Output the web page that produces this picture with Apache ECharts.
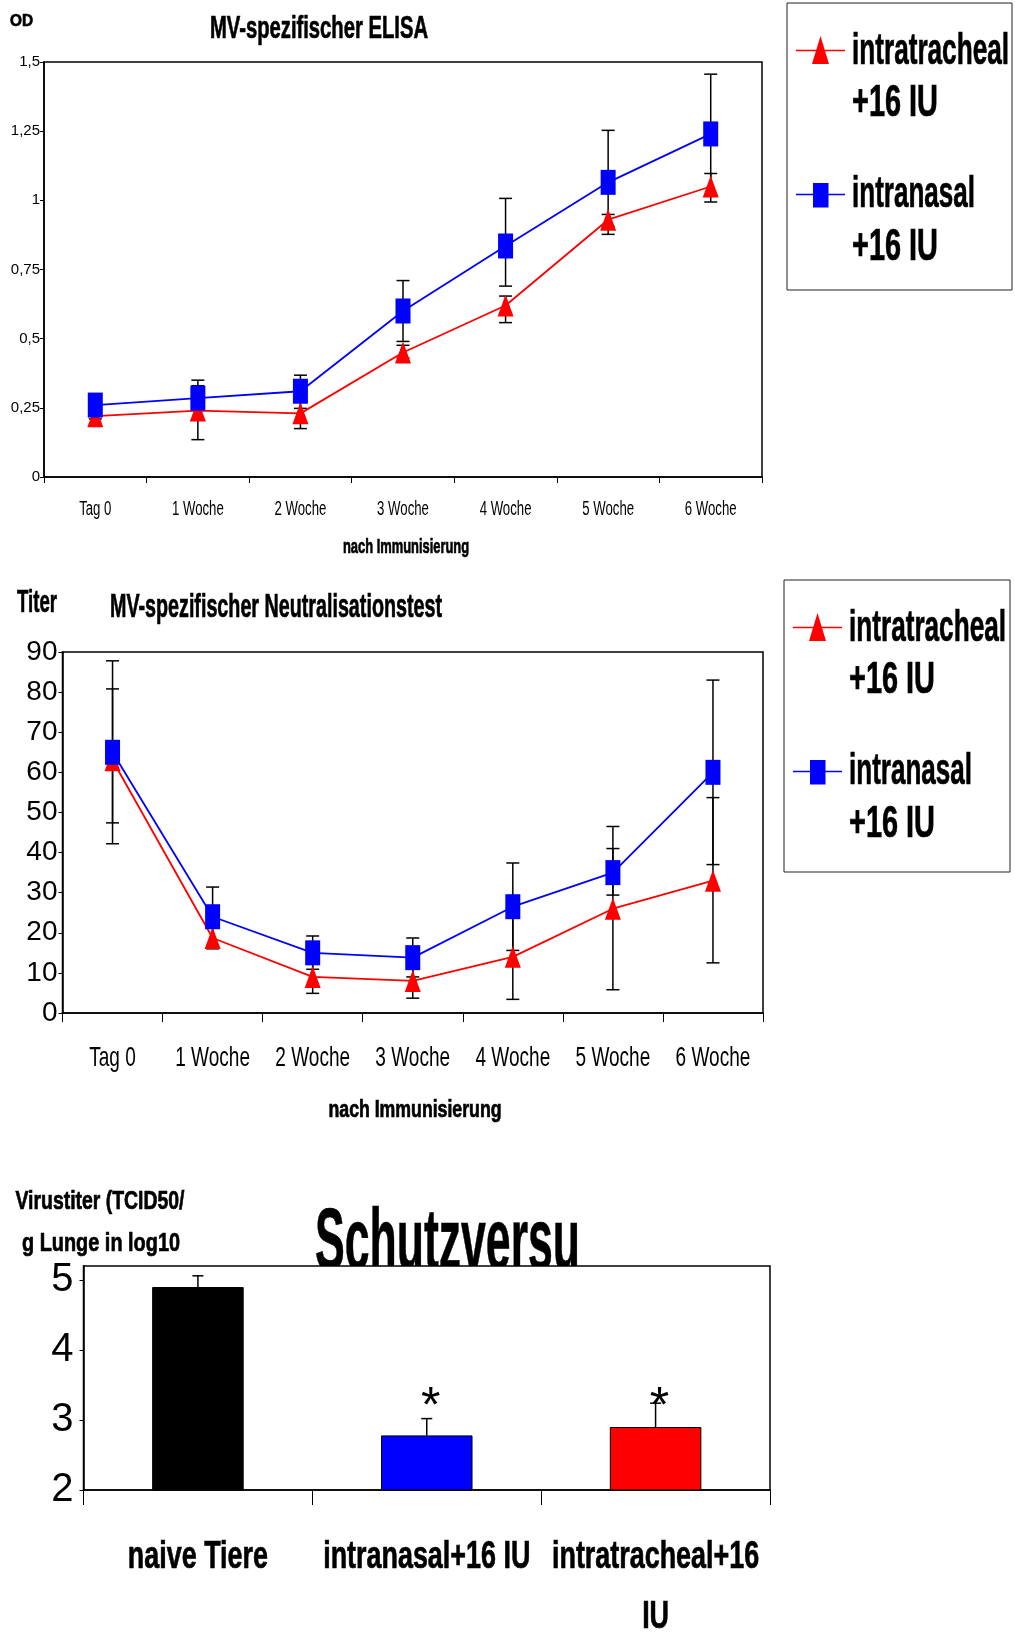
<!DOCTYPE html>
<html>
<head>
<meta charset="utf-8">
<script src="https://cdn.jsdelivr.net/npm/echarts@6/dist/echarts.min.js"></script>
<style>
html,body{margin:0;padding:0;background:#fff;}
#main{width:1015px;height:1634px;}
</style>
</head>
<body>
<div id="main"></div>
<script>
// data
const weeks=['Tag 0','1 Woche','2 Woche','3 Woche','4 Woche','5 Woche','6 Woche'];

const elisaTracheal=[0.22,0.24,0.23,0.45,0.62,0.93,1.05];
const elisaTrachealHigh=[0.23,0.33,0.285,0.476,0.654,0.949,1.097];
const elisaTrachealLow=[0.21,0.135,0.175,0.43,0.558,0.905,0.994];
const elisaNasal=[0.26,0.285,0.31,0.60,0.835,1.065,1.24];
const elisaNasalHigh=[0.27,0.35,0.368,0.71,1.007,1.253,1.456];
const elisaNasalLow=[0.25,0.21,0.248,0.49,0.69,0.877,1.02];

const neutTracheal=[63,18.7,9,8,14,26,33];
const neutTrachealHigh=[80.8,21.5,13,12.3,24.8,46.5,53.7];
const neutTrachealLow=[47.4,16,4.9,3.7,3.4,5.8,12.5];
const neutNasal=[65,24,15,13.8,26.5,35,60];
const neutNasalHigh=[87.8,31.4,19.2,18.7,37.4,41,83];
const neutNasalLow=[42.2,16.8,10.9,9,15.6,29.4,37];

const virusGroups=['naive Tiere','intranasal+16 IU','intratracheal+16\nIU'];
const virusTiter=[4.9,2.78,2.9];
const virusHigh=[5.06,3.02,3.24];
const virusSig=['','*','*'];
const virusColors=['#000000','#0000ff','#ff0000'];

const yMin=[0,0,2];
const RED='#ff0000',BLUE='#0000ff';
const GFONT='"Liberation Sans", Arial, sans-serif';

// squeezed text, like the condensed lettering of the original
const ctx=document.createElement('canvas').getContext('2d');
function sqs(text,x,y,size,sx,weight,o){
  o=o||{};
  let font=(weight||'normal')+' '+size+'px '+GFONT;
  let el={type:'text',x:x,y:y,scaleX:sx,
    style:{text:text,font:font,fill:'#000',align:o.align||'center',verticalAlign:o.valign||'middle'}};
  if(weight==='bold'){el.style.stroke='#000';el.style.lineWidth=0.7;}
  if(o.lineHeight) el.style.lineHeight=o.lineHeight;
  if(o.z!==undefined) el.z=o.z;
  return el;
}
function sq(text,x,y,size,w,weight,align,z){
  ctx.font=(weight||'normal')+' '+size+'px '+GFONT;
  return sqs(text,x,y,size,w/ctx.measureText(text).width,weight,{align:align,z:z});
}

function legendBox(x,y,w,h){
  return {type:'group',x:x,y:y,children:[
    {type:'rect',shape:{x:0,y:0,width:w,height:h},style:{fill:'#fff',stroke:'#222',lineWidth:1}},
    {type:'line',shape:{x1:9,y1:47.5,x2:58,y2:47.5},style:{stroke:RED,lineWidth:1.5}},
    {type:'polygon',shape:{points:[[33.5,33],[25,61],[42,61]]},style:{fill:RED}},
    sq('intratracheal',65,48.5,44,157,'bold','left'),
    sq('+16 IU',65,100.5,44,86,'bold','left'),
    {type:'line',shape:{x1:9,y1:191.5,x2:58,y2:191.5},style:{stroke:BLUE,lineWidth:1.5}},
    {type:'rect',shape:{x:26,y:180,width:15.5,height:24.5},style:{fill:BLUE}},
    sq('intranasal',65,192,44,123,'bold','left'),
    sq('+16 IU',65,244.5,44,86,'bold','left')
  ]};
}

function errItem(params,api){
  let x=api.value(0);
  let top=api.coord([x,api.value(2)]);
  let bot=api.coord([x,api.value(1)]);
  let w=6.5;
  let st={stroke:'#000',lineWidth:1.5};
  return {type:'group',children:[
    {type:'line',shape:{x1:top[0],y1:top[1],x2:bot[0],y2:bot[1]},style:st},
    {type:'line',shape:{x1:top[0]-w,y1:top[1],x2:top[0]+w,y2:top[1]},style:st},
    {type:'line',shape:{x1:bot[0]-w,y1:bot[1],x2:bot[0]+w,y2:bot[1]},style:st}
  ]};
}

const STAR_LEVEL=3.17;
function virusErrItem(params,api){
  let x=api.value(0);
  let top=api.coord([x,api.value(2)]);
  let bot=api.coord([x,api.value(1)]);
  let star=api.coord([x,STAR_LEVEL]);
  let st={stroke:'#000',lineWidth:1.5};
  let kids=[
    {type:'line',shape:{x1:top[0],y1:top[1],x2:bot[0],y2:bot[1]},style:st},
    {type:'line',shape:{x1:top[0]-5.5,y1:top[1],x2:top[0]+5.5,y2:top[1]},style:st}
  ];
  if(virusSig[params.dataIndex]){
    kids.push({type:'text',x:star[0]+4,y:star[1],
      style:{text:virusSig[params.dataIndex],font:'50px '+GFONT,fill:'#000',align:'center',verticalAlign:'middle'}});
  }
  return {type:'group',children:kids};
}

function catAxis(grid,data,tickLen){
  return {type:'category',gridIndex:grid,data:data,boundaryGap:true,
    axisLine:{show:true,lineStyle:{color:'#000',width:1.5}},
    axisTick:{show:true,length:tickLen,lineStyle:{color:'#000',width:1}},
    axisLabel:{show:false},
    splitLine:{show:false}};
}
function valAxis(grid,max,interval,lab){
  return {type:'value',gridIndex:grid,min:yMin[grid],max:max,interval:interval,
    axisLine:{show:true,lineStyle:{color:'#000',width:1.5}},
    axisTick:{show:true,length:4,lineStyle:{color:'#000',width:1}},
    axisLabel:Object.assign({color:'#000',fontFamily:GFONT},lab),
    splitLine:{show:false}};
}
function lineSeries(name,xi,data,color,symbol,size){
  return {name:name,type:'line',xAxisIndex:xi,yAxisIndex:xi,data:data,
    symbol:symbol,symbolSize:size,showSymbol:true,z:3,
    lineStyle:{color:color,width:1.8},itemStyle:{color:color}};
}
function errSeries(xi,low,high){
  return {type:'custom',xAxisIndex:xi,yAxisIndex:xi,z:1,
    data:low.map((v,i)=>[i,v,high[i]]),renderItem:errItem};
}

let myChart=echarts.init(document.getElementById('main'));
myChart.setOption({
  animation:false,
  backgroundColor:'#fff',
  grid:[
    {left:44,top:62,width:718,height:415,show:true,backgroundColor:'#fff',borderColor:'#000',borderWidth:1.5,outerBoundsMode:'none'},
    {left:62.5,top:652,width:700.5,height:361,show:true,backgroundColor:'#fff',borderColor:'#000',borderWidth:1.5,outerBoundsMode:'none'},
    {left:83.5,top:1266,width:686.5,height:224,show:true,backgroundColor:'#fff',borderColor:'#000',borderWidth:1.5,outerBoundsMode:'none'}
  ],
  xAxis:[catAxis(0,weeks,6),catAxis(1,weeks,9),catAxis(2,virusGroups,15)],
  yAxis:[
    valAxis(0,1.5,0.25,{fontSize:15,margin:4,formatter:v=>String(v).replace('.',',')}),
    valAxis(1,90,10,{fontSize:28,margin:5}),
    valAxis(2,5.2,1,{fontSize:40,margin:10,showMaxLabel:false})
  ],
  series:[
    errSeries(0,elisaTrachealLow,elisaTrachealHigh),
    errSeries(0,elisaNasalLow,elisaNasalHigh),
    lineSeries('intratracheal +16 IU',0,elisaTracheal,RED,'triangle',[16,22]),
    lineSeries('intranasal +16 IU',0,elisaNasal,BLUE,'rect',[15,25]),
    errSeries(1,neutTrachealLow,neutTrachealHigh),
    errSeries(1,neutNasalLow,neutNasalHigh),
    lineSeries('intratracheal +16 IU',1,neutTracheal,RED,'triangle',[16,22]),
    lineSeries('intranasal +16 IU',1,neutNasal,BLUE,'rect',[15,25]),
    {type:'bar',xAxisIndex:2,yAxisIndex:2,barWidth:'40%',
      data:virusTiter.map((v,i)=>({value:v,itemStyle:{color:virusColors[i],borderColor:'#000',borderWidth:1}}))},
    {type:'custom',xAxisIndex:2,yAxisIndex:2,z:3,
      data:virusTiter.map((v,i)=>[i,v,virusHigh[i]]),renderItem:virusErrItem}
  ]
});

// category labels: placed from the axes, drawn squeezed
function catLabels(k,cats,gap,size,sx,weight,o){
  let base=myChart.convertToPixel({yAxisIndex:k},yMin[k]);
  return cats.map((c,i)=>sqs(c,myChart.convertToPixel({xAxisIndex:k},i),base+gap,size,sx,weight,o));
}

myChart.setOption({
  graphic:[
    sq('OD',21.5,21,17,23,'bold'),
    sq('MV-spezifischer ELISA',319,29,32,218,'bold'),
    sq('nach Immunisierung',406,547,20,126,'bold'),
    legendBox(787,3,225,287),
    sq('Titer',37,603,32,40,'bold'),
    sq('MV-spezifischer Neutralisationstest',276,608,33,332,'bold'),
    sq('nach Immunisierung',415,1111,23,173,'bold'),
    legendBox(784,580,226,292),
    sq('Virustiter (TCID50/',100,1202,26,169,'bold'),
    sq('g Lunge in log10',101,1244,26,158,'bold'),
    // the big title is cut off by the plot frame in the original
    sq('Schutzversu',315,1245,88,265,'bold','left',-5)
  ].concat(
    catLabels(0,weeks,32,20,0.66,'normal'),
    catLabels(1,weeks,45,28,0.68,'normal'),
    catLabels(2,virusGroups,37,39,0.69,'bold',{valign:'top',lineHeight:60})
  )
});
</script>
</body>
</html>
